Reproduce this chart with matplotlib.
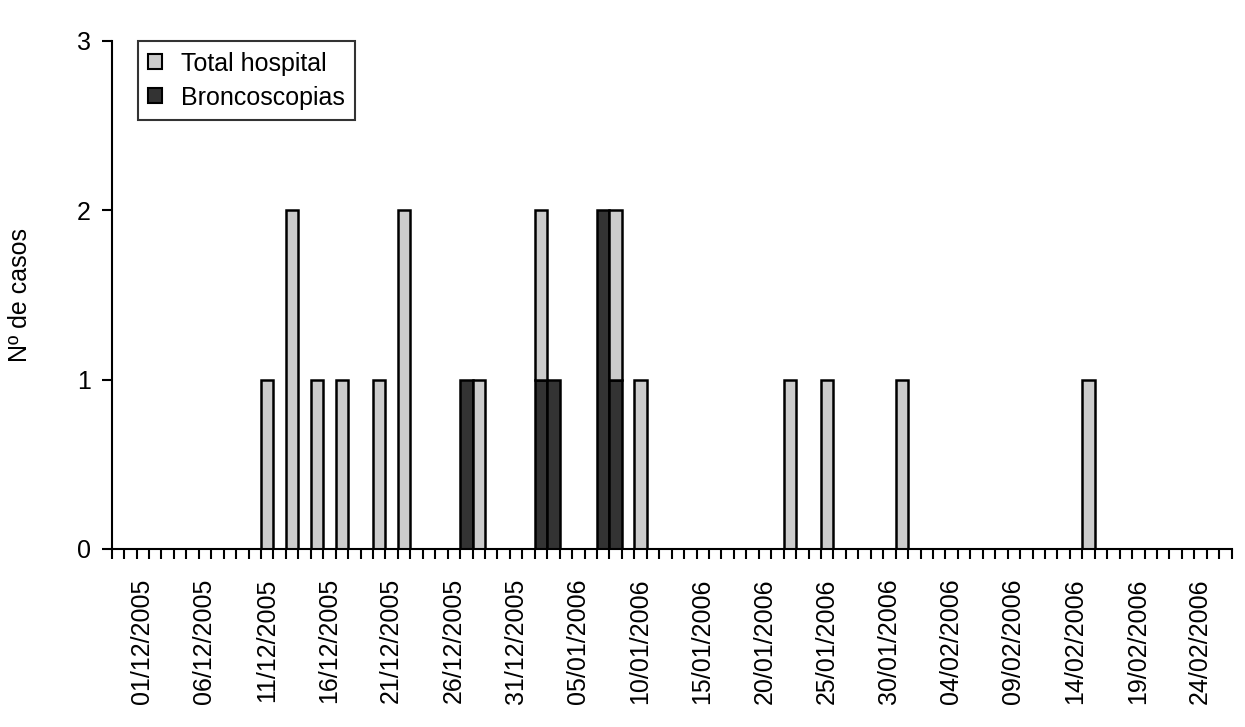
import matplotlib
matplotlib.use("Agg")
import matplotlib.pyplot as plt
from matplotlib.patches import Patch
from matplotlib.ticker import FixedLocator
import pandas as pd
import numpy as np

plt.rcParams['font.family'] = ['Liberation Sans', 'DejaVu Sans']

# ---- data ----
start_date = "2005-12-01"
# light grey series (drawn above the dark series where both exist)
total_dates = ["2005-12-11", "2005-12-13", "2005-12-15", "2005-12-17", "2005-12-20",
               "2005-12-22", "2005-12-28", "2006-01-02", "2006-01-08", "2006-01-10",
               "2006-01-22", "2006-01-25", "2006-01-31", "2006-02-15"]
total_counts = [1, 2, 1, 1, 1, 2, 1, 1, 1, 1, 1, 1, 1, 1]
bronc_dates = ["2005-12-27", "2006-01-02", "2006-01-03", "2006-01-07", "2006-01-08"]
bronc_counts = [1, 1, 1, 2, 1]

tick_labels = ["01/12/2005", "06/12/2005", "11/12/2005", "16/12/2005", "21/12/2005",
               "26/12/2005", "31/12/2005", "05/01/2006", "10/01/2006", "15/01/2006",
               "20/01/2006", "25/01/2006", "30/01/2006", "04/02/2006", "09/02/2006",
               "14/02/2006", "19/02/2006", "24/02/2006"]

y_ticks = [0, 1, 2, 3]

LIGHT = "#cccccc"
DARK = "#333333"

t0 = pd.Timestamp(start_date)
def day_index(dates):
    return np.array([(pd.Timestamp(d) - t0).days for d in dates])

bronc_x = day_index(bronc_dates)
total_x = day_index(total_dates)
bronc_map = dict(zip(bronc_x, bronc_counts))
total_bottom = [bronc_map.get(x, 0) for x in total_x]
label_x = day_index([pd.to_datetime(s, format="%d/%m/%Y") for s in tick_labels])

# ---- figure ----
W, H = 1245, 727
fig = plt.figure(figsize=(W / 100, H / 100), dpi=100)
ax_left, ax_right, ax_top, ax_bottom = 111.7, 1231.7, 41, 549
ax = fig.add_axes([ax_left / W, 1 - ax_bottom / H, (ax_right - ax_left) / W,
                   (ax_bottom - ax_top) / H])

lw = 1.5
blw = 1.8
ax.bar(bronc_x, bronc_counts, width=1, align='edge', color=DARK,
       edgecolor='black', linewidth=blw, zorder=3)
ax.bar(total_x, total_counts, width=1, bottom=total_bottom, align='edge',
       color=LIGHT, edgecolor='black', linewidth=blw, zorder=3)

ax.set_xlim(-2, 88)
ax.set_ylim(0, 3)

for s in ['top', 'right']:
    ax.spines[s].set_visible(False)
for s in ['left', 'bottom']:
    ax.spines[s].set_linewidth(lw)
    ax.spines[s].set_zorder(4)

fs = 18
# y axis
ax.set_yticks(y_ticks)
ax.set_yticklabels([str(v) for v in y_ticks])
ax.tick_params(axis='y', direction='out', length=7.5, width=lw, pad=7.5,
               labelsize=fs)

# x axis: day tick marks (minor) + labels (major, no mark)
ax.xaxis.set_minor_locator(FixedLocator(np.arange(-2, 89)))
ax.set_xticks(label_x + 0.45)
ax.set_xticklabels(tick_labels, rotation=90)
ax.tick_params(axis='x', which='major', length=0, pad=21, labelsize=fs)
ax.tick_params(axis='x', which='minor', direction='out', length=7.5, width=lw)

ax.set_ylabel("Nº de casos", fontsize=fs)
ax.yaxis.set_label_coords((31.7 - ax_left) / (ax_right - ax_left), 0.5)

handles = [Patch(facecolor=LIGHT, edgecolor='black', linewidth=lw),
           Patch(facecolor=DARK, edgecolor='black', linewidth=lw)]
leg = ax.legend(handles, ["Total hospital", "Broncoscopias"],
                loc='upper left', bbox_to_anchor=(26 / 1120, 1.0),
                borderaxespad=0, fontsize=fs, frameon=True, fancybox=False,
                handlelength=0.55, handleheight=0.55, handletextpad=0.75,
                borderpad=0.42, labelspacing=0.4)
leg.get_frame().set_edgecolor('black')
leg.get_frame().set_linewidth(lw)

fig.savefig("out.png", dpi=100)
